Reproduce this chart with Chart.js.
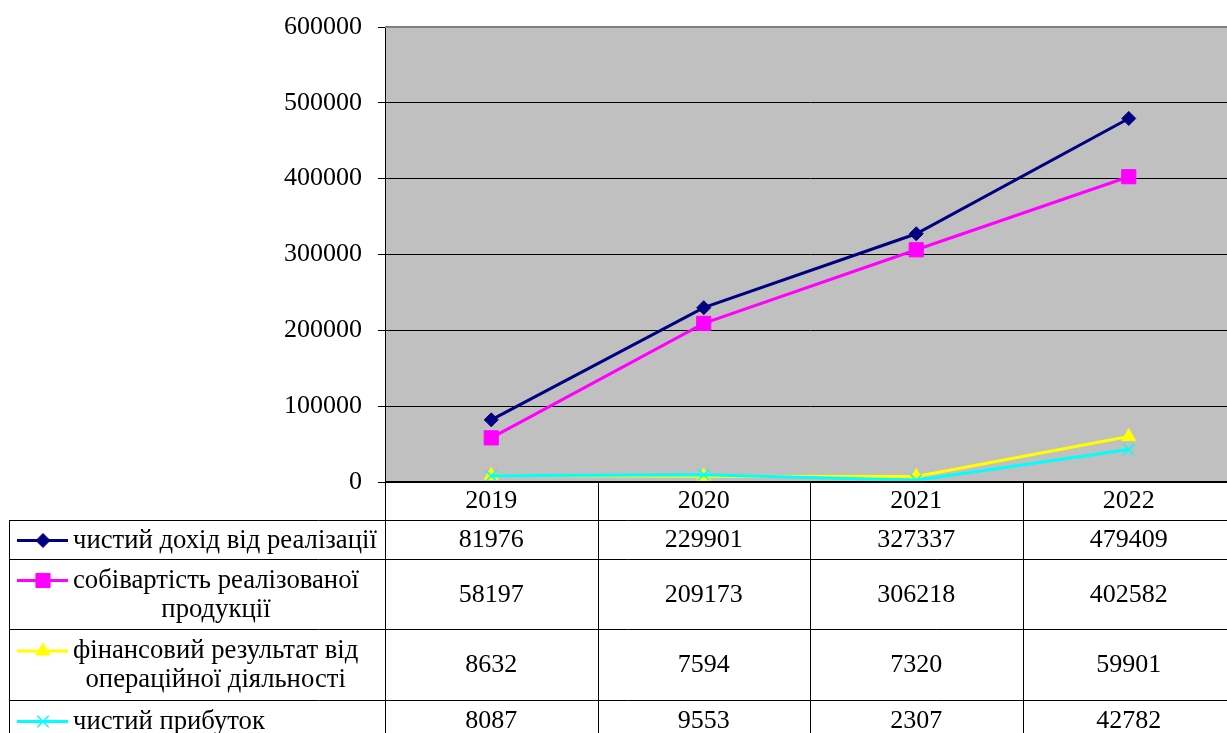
<!DOCTYPE html>
<html>
<head>
<meta charset="utf-8">
<script src="https://cdn.jsdelivr.net/npm/chart.js@4/dist/chart.umd.min.js"></script>
<style>
  html, body { margin: 0; padding: 0; background: #fff; overflow: hidden; }
  #wrap { width: 1246px; height: 733px; }
</style>
</head>
<body>
<div id="wrap"><canvas id="chart" width="1246" height="733"></canvas></div>
<script>
var years = ["2019", "2020", "2021", "2022"];
var seriesNames = [
  ["чистий дохід від реалізації"],
  ["собівартість реалізованої", "продукції"],
  ["фінансовий результат від", "операційної діяльності"],
  ["чистий прибуток"]
];
var netRevenue = [81976, 229901, 327337, 479409];
var costOfSales = [58197, 209173, 306218, 402582];
var operatingResult = [8632, 7594, 7320, 59901];
var netProfit = [8087, 9553, 2307, 42782];
var yMin = 0, yMax = 600000, yStep = 100000;

var FONT = '"Liberation Serif", "Times New Roman", serif';

function drawMarker(ctx, style, r, x, y, color) {
  ctx.save();
  ctx.fillStyle = color;
  ctx.strokeStyle = color;
  ctx.lineWidth = 1;
  ctx.beginPath();
  if (style === 'rectRot') {
    ctx.moveTo(x - r, y); ctx.lineTo(x, y - r); ctx.lineTo(x + r, y); ctx.lineTo(x, y + r);
    ctx.closePath(); ctx.fill(); ctx.stroke();
  } else if (style === 'rect') {
    var s = r * Math.SQRT1_2;
    ctx.rect(x - s, y - s, 2 * s, 2 * s); ctx.fill(); ctx.stroke();
  } else if (style === 'triangle') {
    var w = r * Math.sqrt(3) / 2;
    ctx.moveTo(x, y - r); ctx.lineTo(x + w, y + r / 2); ctx.lineTo(x - w, y + r / 2);
    ctx.closePath(); ctx.fill(); ctx.stroke();
  } else if (style === 'crossRot') {
    var d = r * Math.SQRT1_2;
    ctx.moveTo(x - d, y - d); ctx.lineTo(x + d, y + d);
    ctx.moveTo(x - d, y + d); ctx.lineTo(x + d, y - d);
    ctx.lineWidth = 1.5; ctx.stroke();
  }
  ctx.restore();
}

var tablePlugin = {
  id: 'dataTable',
  beforeDraw: function (chart) {
    var a = chart.chartArea, ctx = chart.ctx;
    ctx.save();
    ctx.fillStyle = '#c0c0c0';
    ctx.fillRect(a.left, a.top, a.right - a.left, a.bottom - a.top);
    ctx.restore();
  },
  afterDraw: function (chart) {
    var a = chart.chartArea, ctx = chart.ctx, xs = chart.scales.x;
    var half = (xs.getPixelForValue(1) - xs.getPixelForValue(0)) / 2;
    var rows = [520, 559, 629, 700, 741];
    var tableLeft = 9.5, right = chart.width;
    ctx.save();
    // gray top border of plot area
    ctx.strokeStyle = '#808080';
    ctx.lineWidth = 2;
    ctx.beginPath(); ctx.moveTo(a.left, a.top); ctx.lineTo(right, a.top); ctx.stroke();
    // thick x axis line
    ctx.strokeStyle = '#000';
    ctx.beginPath(); ctx.moveTo(a.left, a.bottom); ctx.lineTo(right, a.bottom); ctx.stroke();
    ctx.lineWidth = 1;
    ctx.beginPath();
    rows.forEach(function (y) { ctx.moveTo(tableLeft, y + 0.5); ctx.lineTo(right, y + 0.5); });
    ctx.moveTo(tableLeft, rows[0]); ctx.lineTo(tableLeft, chart.height);
    ctx.moveTo(Math.round(a.left) + 0.5, a.bottom); ctx.lineTo(Math.round(a.left) + 0.5, chart.height);
    years.forEach(function (y, i) {
      var bx = Math.round(xs.getPixelForValue(i) + half) + 0.5;
      ctx.moveTo(bx, a.bottom); ctx.lineTo(bx, chart.height);
    });
    ctx.stroke();

    ctx.fillStyle = '#000';
    ctx.textBaseline = 'middle';
    chart.data.datasets.forEach(function (ds, r) {
      var top = rows[r], bottom = rows[r + 1];
      var mid = (top + bottom) / 2 + 1;
      var lines = seriesNames[r];
      var lh = 29;
      var firstY = mid - (lines.length - 1) * lh / 2;
      // legend key
      ctx.save();
      ctx.strokeStyle = ds.borderColor;
      ctx.lineWidth = 3;
      ctx.beginPath(); ctx.moveTo(17, firstY); ctx.lineTo(68, firstY); ctx.stroke();
      ctx.restore();
      drawMarker(ctx, ds.pointStyle, ds.pointRadius, 43, firstY, ds.pointBackgroundColor);
      // legend text
      ctx.font = '26.7px ' + FONT;
      ctx.textAlign = 'left';
      ctx.fillText(lines[0], 73, firstY);
      var c = 73 + ctx.measureText(lines[0]).width / 2;
      ctx.textAlign = 'center';
      for (var k = 1; k < lines.length; k++) ctx.fillText(lines[k], c, firstY + k * lh);
      // values
      ctx.font = '26px ' + FONT;
      ds.data.forEach(function (v, i) {
        ctx.fillText(String(v), xs.getPixelForValue(i), mid);
      });
    });
    ctx.restore();
  }
};

new Chart(document.getElementById('chart'), {
  type: 'line',
  data: {
    labels: years,
    datasets: [
      { label: seriesNames[0].join(' '), data: netRevenue, borderColor: '#000080', pointBackgroundColor: '#000080', pointBorderColor: '#000080', pointStyle: 'rectRot', pointRadius: 7, order: 3 },
      { label: seriesNames[1].join(' '), data: costOfSales, borderColor: '#ff00ff', pointBackgroundColor: '#ff00ff', pointBorderColor: '#ff00ff', pointStyle: 'rect', pointRadius: 10, order: 2 },
      { label: seriesNames[2].join(' '), data: operatingResult, borderColor: '#ffff00', pointBackgroundColor: '#ffff00', pointBorderColor: '#ffff00', pointStyle: 'triangle', pointRadius: 8, order: 1 },
      { label: seriesNames[3].join(' '), data: netProfit, borderColor: '#00ffff', pointBackgroundColor: '#00ffff', pointBorderColor: '#00ffff', pointStyle: 'crossRot', pointRadius: 8, pointBorderWidth: 1.5, order: 0 }
    ]
  },
  options: {
    responsive: false,
    animation: false,
    layout: { padding: { top: 27, right: 1, left: 0, bottom: 0 } },
    elements: { line: { borderWidth: 3, tension: 0 }, point: { borderWidth: 1, hoverRadius: 8 } },
    plugins: { legend: { display: false }, tooltip: { enabled: false } },
    scales: {
      x: {
        offset: true,
        grid: { display: false },
        border: { display: false },
        ticks: { color: '#000', font: { family: FONT, size: 26 }, padding: -4, maxRotation: 0 },
        afterFit: function (s) { s.height = 251; }
      },
      y: {
        min: yMin, max: yMax,
        ticks: {
          stepSize: yStep, color: '#000', font: { family: FONT, size: 26, lineHeight: 0.6 }, padding: 16,
          callback: function (v) { return String(v); }
        },
        grid: { color: '#000', lineWidth: 1, tickLength: 7, tickColor: '#000' },
        border: { color: '#000', width: 1 },
        afterFit: function (s) { s.width = 385; }
      }
    }
  },
  plugins: [tablePlugin]
});
</script>
</body>
</html>
